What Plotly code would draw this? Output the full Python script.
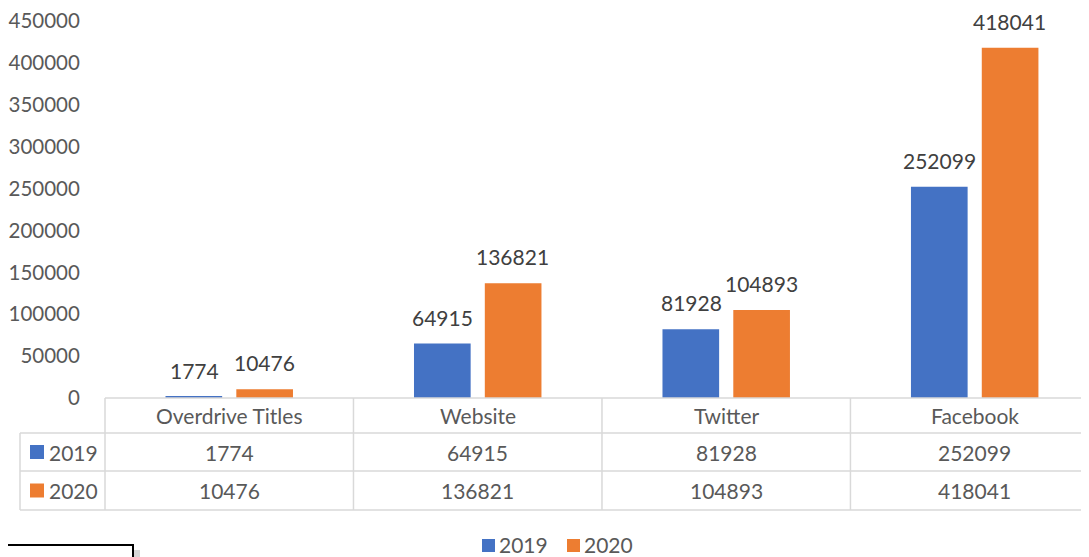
import plotly.graph_objects as go

categories = ["Overdrive Titles", "Website", "Twitter", "Facebook"]
series_names = ["2019", "2020"]
values_2019 = [1774, 64915, 81928, 252099]
values_2020 = [10476, 136821, 104893, 418041]
y_ticks = [0, 50000, 100000, 150000, 200000, 250000, 300000, 350000, 400000, 450000]

colors = ["#4472C4", "#ED7D31"]
OFF = 8  # page body margin
W, H = 1089 - OFF, 557 - OFF
L, R, T, B = 105 - OFF, 0, 21 - OFF, 557 - 398
PW, PH = W - L - R, H - T - B
FONT = "Lato"
GRID = "#d9d9d9"
TXT = "#595959"


def px_x(p):
    return (p - OFF - L) / PW


def px_y(p):
    return (H - B - (p - OFF)) / PH


fig = go.Figure()
for name, vals, col in zip(series_names, [values_2019, values_2020], colors):
    fig.add_trace(go.Bar(x=categories, y=vals, name=name, marker_color=col,
                         marker_line_width=0, showlegend=False))

shapes = []
annotations = []

# data labels above bars
for k, vals in enumerate([values_2019, values_2020]):
    for c, v in zip(categories, vals):
        annotations.append(dict(x=c, y=v, xref="x", yref="y", text=str(v),
                                showarrow=False, yanchor="bottom",
                                xshift=(-35 if k == 0 else 35), yshift=12,
                                font=dict(family=FONT, size=21, color="#404040")))

# data table
row_tops = [398, 433, 471, 510]
line = dict(color=GRID, width=1.5)
shapes.append(dict(type="line", xref="paper", yref="paper", x0=0, x1=1,
                   y0=px_y(398), y1=px_y(398), line=line))
for yy in row_tops[1:]:
    shapes.append(dict(type="line", xref="paper", yref="paper", x0=px_x(20), x1=1,
                       y0=px_y(yy), y1=px_y(yy), line=line))
shapes.append(dict(type="line", xref="paper", yref="paper", x0=px_x(20), x1=px_x(20),
                   y0=px_y(433), y1=px_y(510), line=line))
shapes.append(dict(type="line", xref="paper", yref="paper", x0=0, x1=0,
                   y0=px_y(398), y1=px_y(510), line=line))
for b in [0.5, 1.5, 2.5]:
    shapes.append(dict(type="line", xref="x", yref="paper", x0=b, x1=b,
                       y0=px_y(398), y1=px_y(510), line=line))

row_centers = [(398 + 433) / 2, (433 + 471) / 2, (471 + 510) / 2]
for c in categories:
    annotations.append(dict(x=c, y=px_y(row_centers[0]), xref="x", yref="paper",
                            text=c, showarrow=False, yanchor="middle",
                            font=dict(family=FONT, size=21, color=TXT)))
for r, (name, vals, col) in enumerate(zip(series_names, [values_2019, values_2020], colors)):
    yc = row_centers[r + 1]
    for c, v in zip(categories, vals):
        annotations.append(dict(x=c, y=px_y(yc), xref="x", yref="paper",
                                text=str(v), showarrow=False, yanchor="middle",
                                font=dict(family=FONT, size=21, color=TXT)))
    shapes.append(dict(type="rect", xref="paper", yref="paper",
                       x0=px_x(30), x1=px_x(44), y0=px_y(yc - 7), y1=px_y(yc + 7),
                       fillcolor=col, line=dict(width=0)))
    annotations.append(dict(x=px_x(47), y=px_y(yc), xref="paper", yref="paper",
                            text=name, showarrow=False, xanchor="left", yanchor="middle",
                            font=dict(family=FONT, size=21, color=TXT)))

# legend (bottom)
legend_pos = [482, 567]
for name, col, lx in zip(series_names, colors, legend_pos):
    shapes.append(dict(type="rect", xref="paper", yref="paper",
                       x0=px_x(lx), x1=px_x(lx + 13), y0=px_y(539), y1=px_y(552),
                       fillcolor=col, line=dict(width=0)))
    annotations.append(dict(x=px_x(lx + 16), y=px_y(544.5), xref="paper", yref="paper",
                            text=name, showarrow=False, xanchor="left", yanchor="middle",
                            borderpad=0,
                            font=dict(family=FONT, size=21, color=TXT)))

# stray box at bottom-left
shapes.append(dict(type="rect", xref="paper", yref="paper",
                   x0=px_x(10), x1=px_x(140), y0=px_y(550), y1=px_y(580),
                   fillcolor="#bbbbbb", line=dict(width=0), opacity=0.6))
shapes.append(dict(type="rect", xref="paper", yref="paper",
                   x0=px_x(3), x1=px_x(133), y0=px_y(545), y1=px_y(580),
                   fillcolor="white", line=dict(color="black", width=2)))

fig.update_layout(
    width=W, height=H,
    margin=dict(l=L, r=R, t=T, b=B, autoexpand=False),
    plot_bgcolor="white", paper_bgcolor="white",
    barmode="group", bargap=0.43, bargroupgap=0.2,
    showlegend=False,
    font=dict(family=FONT, size=21, color=TXT),
    xaxis=dict(range=[-0.5, 3.46], showticklabels=False, showgrid=False,
               zeroline=False, showline=False, ticks="", automargin=False),
    yaxis=dict(range=[0, 450000], tickvals=y_ticks, ticktext=[str(t) for t in y_ticks],
               showgrid=False, zeroline=False, showline=False, automargin=False,
               ticks="outside", ticklen=20, tickcolor="rgba(0,0,0,0)",
               ticklabeloverflow="allow",
               tickfont=dict(family=FONT, size=20.5, color=TXT)),
    shapes=shapes, annotations=annotations,
)

fig.write_html("out.html")
